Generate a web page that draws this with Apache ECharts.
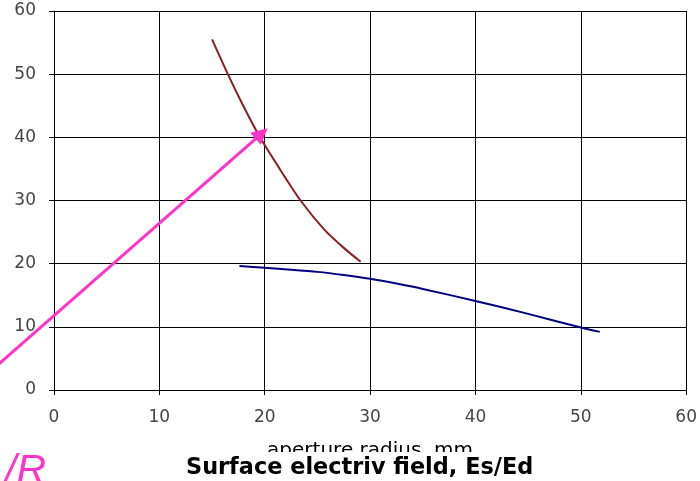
<!DOCTYPE html>
<html>
<head>
<meta charset="utf-8">
<script src="https://cdn.jsdelivr.net/npm/echarts@6/dist/echarts.min.js"></script>
<style>html,body{margin:0;padding:0;background:#fff}#c{width:700px;height:481px}</style>
</head>
<body>
<div id="c"></div>
<script>
const xTicks = [0, 10, 20, 30, 40, 50, 60];
const yTicks = [0, 10, 20, 30, 40, 50, 60];
const redCurve = [[15.0,55.5],[16.5,50.0],[17.9,45.2],[19.55,40.0],[21.5,34.8],[23.4,30.0],[25.7,25.3],[27.5,22.5],[29.1,20.3]];
const blueCurve = [[17.6,19.62],[20,19.35],[22.5,19.05],[25,18.7],[27.5,18.2],[30,17.6],[32.5,16.85],[35,16.0],[40,14.1],[45,12.05],[50,9.9],[51.8,9.2]];
const arrowLine = [[-6,3],[19.7,40.6]];
const xName = 'aperture radius, mm';
const titleText = 'Surface electriv field, Es/Ed';
const cornerText = '/R';

const chart = echarts.init(document.getElementById('c'), null, {renderer:'canvas'});
const axisCommon = {
  type: 'value', min: 0, max: 60, interval: 10,
  axisLine: {show: true, lineStyle: {color: '#000', width: 1}},
  axisTick: {show: true, inside: false, length: 5, lineStyle: {color: '#000'}},
  splitLine: {show: true, lineStyle: {color: '#000', width: 1}},
  axisLabel: {color: '#444', fontFamily: 'DejaVu Sans', fontSize: 17}
};
chart.setOption({
  animation: false,
  backgroundColor: '#fff',
  title: {
    text: titleText, left: 186, top: 452,
    backgroundColor: '#fff', padding: [5, 0, 4, 0],
    textStyle: {fontFamily: 'DejaVu Sans', fontWeight: 'bold', fontSize: 22.4, color: '#000'}
  },
  grid: {left: 54, right: 13, top: 11, bottom: 91},
  xAxis: Object.assign({}, axisCommon, {
    name: xName, nameLocation: 'middle', nameGap: 51,
    nameTextStyle: {fontFamily: 'DejaVu Sans', fontSize: 20, color: '#000'},
    axisLabel: Object.assign({}, axisCommon.axisLabel, {margin: 19, formatter: v => xTicks.includes(v) ? String(v) : ''})
  }),
  yAxis: Object.assign({}, axisCommon, {
    axisLabel: Object.assign({}, axisCommon.axisLabel, {margin: 18, formatter: v => yTicks.includes(v) ? String(v) : ''})
  }),
  graphic: [{
    type: 'text', left: 5, top: 451, z: 100,
    style: {text: cornerText, fill: '#ff33cc', font: 'italic 41px "Liberation Sans"'}
  }],
  series: [
    {type: 'line', data: redCurve, smooth: 0.25, showSymbol: false, lineStyle: {color: '#8b1f1f', width: 2}},
    {type: 'line', data: blueCurve, smooth: 0.25, showSymbol: false, lineStyle: {color: '#000080', width: 2}},
    {type: 'lines', coordinateSystem: 'cartesian2d', clip: false, z: 10,
     symbol: ['none', 'triangle'], symbolSize: [13, 16],
     lineStyle: {color: '#ff33cc', width: 3, opacity: 1},
     data: [{coords: arrowLine}]}
  ]
});
</script>
</body>
</html>
